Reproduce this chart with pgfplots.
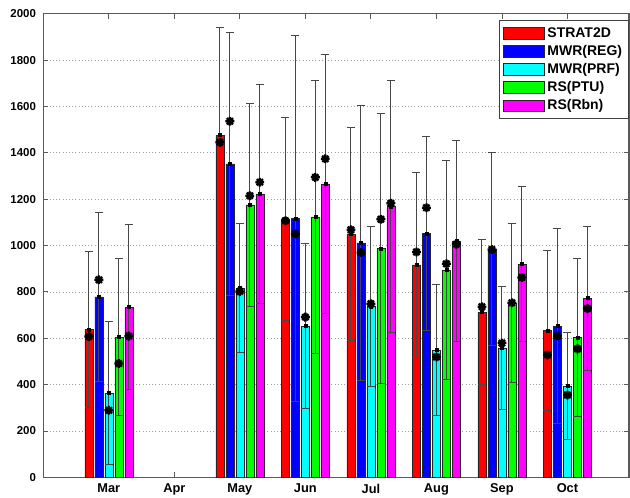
\documentclass[border=0pt]{standalone}
\usepackage{pgfplots}
\pgfplotsset{compat=1.18}
\usepackage{pgfplotstable}
\usepackage{fontspec}
\setmainfont{Liberation Sans}

\pgfplotstableread{
x y err med
1 637 335 607
3 1476 466 1445
4 1114 437 1107
5 1050 459 1068
6 916 400 972
7 713 313 736
8 633 345 528
}\strat
\pgfplotstableread{
x y err med
1 778 364 852
3 1352 567 1536
4 1117 789 1050
5 1011 594 970
6 1052 418 1163
7 985 417 983
8 652 422 610
}\mwrreg
\pgfplotstableread{
x y err med
1 363 308 289
3 816 278 802
4 652 356 691
5 737 344 749
6 549 284 519
7 558 266 579
8 394 230 355
}\mwrprf
\pgfplotstableread{
x y err med
1 605 337 491
3 1175 438 1215
4 1123 588 1294
5 986 582 1113
6 894 471 921
7 752 341 753
8 603 339 554
}\rsptu
\pgfplotstableread{
x y err med
1 734 356 609
3 1223 472 1273
4 1266 559 1374
5 1169 543 1182
6 1019 433 1006
7 920 334 862
8 773 311 728
}\rsrbn

\definecolor{axgray}{RGB}{90,90,90}
\definecolor{mred}{RGB}{255,0,0}
\definecolor{mblue}{RGB}{0,0,255}
\definecolor{mcyan}{RGB}{0,255,255}
\definecolor{mgreen}{RGB}{0,255,0}
\definecolor{mmag}{RGB}{255,0,255}

\pgfdeclareplotmark{mstar}{%
  \pgfpathmoveto{\pgfqpoint{-\pgfplotmarksize}{0pt}}\pgfpathlineto{\pgfqpoint{\pgfplotmarksize}{0pt}}%
  \pgfpathmoveto{\pgfqpoint{0pt}{-\pgfplotmarksize}}\pgfpathlineto{\pgfqpoint{0pt}{\pgfplotmarksize}}%
  \pgfpathmoveto{\pgfqpoint{-0.707\pgfplotmarksize}{-0.707\pgfplotmarksize}}\pgfpathlineto{\pgfqpoint{0.707\pgfplotmarksize}{0.707\pgfplotmarksize}}%
  \pgfpathmoveto{\pgfqpoint{-0.707\pgfplotmarksize}{0.707\pgfplotmarksize}}\pgfpathlineto{\pgfqpoint{0.707\pgfplotmarksize}{-0.707\pgfplotmarksize}}%
  \pgfusepathqstroke}

\pgfplotsset{
  mybar/.style={ybar, bar width=0.122, bar shift=0pt, fill=#1, draw=black!85, line width=0.4pt,
    error bars/.cd, y dir=both, y explicit,
    error bar style={black!72, line width=0.75pt},
    error mark options={rotate=90, black!72, line width=0.75pt, mark size=3pt}},
  mystar/.style={only marks, mark=mstar, mark size=3.3pt, black, line width=1.7pt, forget plot},
  mysq/.style={only marks, mark=square*, mark size=1.1pt, black, forget plot},
}

\begin{document}
\begin{tikzpicture}
\begin{axis}[
  name=ax, at={(0,0)}, anchor=south west,
  scale only axis, width=439.3pt, height=347.7pt,
  xmin=0, xmax=8.94, ymin=0, ymax=2000,
  xtick={1,...,8},
  xticklabels={Mar,Apr,May,Jun,Jul,Aug,Sep,Oct},
  ytick={0,200,...,2000},
  tick align=inside, major tick length=3.75pt,
  ymajorgrids, grid style={dotted, gray!75, line width=0.5pt},
  axis line style={axgray, line width=0.8pt},
  tick style={axgray, line width=0.6pt},
  /pgf/number format/assume math mode=true,
  /pgf/number format/1000 sep={},
  yticklabel style={font=\bfseries\fontsize{8.6}{10}\selectfont, xshift=-2pt},
  xticklabel style={font=\bfseries\fontsize{9.6}{11}\selectfont, yshift=-1.5pt},
  legend image code/.code={\draw[#1] (0pt,-4.3pt) rectangle (31pt,4.3pt);},
  legend style={at={(1,1)}, anchor=north east, yshift=-4.7pt, draw=black!75, fill=white,
    font=\bfseries\fontsize{10.5}{12}\selectfont, inner xsep=3pt, inner ysep=2.8pt,
    row sep=0pt, nodes={inner xsep=2pt, inner ysep=1.5pt, text height=8.3pt, text depth=2.3pt}},
  legend cell align=left,
]
\addplot[mybar=mred] table[x expr=\thisrow{x}-0.3048, y=y, y error=err]{\strat};
\addlegendentry{STRAT2D}
\addplot[mybar=mblue] table[x expr=\thisrow{x}-0.1524, y=y, y error=err]{\mwrreg};
\addlegendentry{MWR(REG)}
\addplot[mybar=mcyan] table[x expr=\thisrow{x}, y=y, y error=err]{\mwrprf};
\addlegendentry{MWR(PRF)}
\addplot[mybar=mgreen] table[x expr=\thisrow{x}+0.1524, y=y, y error=err]{\rsptu};
\addlegendentry{RS(PTU)}
\addplot[mybar=mmag] table[x expr=\thisrow{x}+0.3048, y=y, y error=err]{\rsrbn};
\addlegendentry{RS(Rbn)}

\addplot[mysq] table[x expr=\thisrow{x}-0.3048, y=y]{\strat};
\addplot[mysq] table[x expr=\thisrow{x}-0.1524, y=y]{\mwrreg};
\addplot[mysq] table[x expr=\thisrow{x}, y=y]{\mwrprf};
\addplot[mysq] table[x expr=\thisrow{x}+0.1524, y=y]{\rsptu};
\addplot[mysq] table[x expr=\thisrow{x}+0.3048, y=y]{\rsrbn};

\addplot[mystar] table[x expr=\thisrow{x}-0.3048, y=med]{\strat};
\addplot[mystar] table[x expr=\thisrow{x}-0.1524, y=med]{\mwrreg};
\addplot[mystar] table[x expr=\thisrow{x}, y=med]{\mwrprf};
\addplot[mystar] table[x expr=\thisrow{x}+0.1524, y=med]{\rsptu};
\addplot[mystar] table[x expr=\thisrow{x}+0.3048, y=med]{\rsrbn};
\end{axis}
\pgfresetboundingbox
\path[use as bounding box] ([xshift=-32.5pt, yshift=-15.5pt]ax.south west) rectangle ([xshift=0.75pt, yshift=10.3pt]ax.north east);
\end{tikzpicture}
\end{document}
